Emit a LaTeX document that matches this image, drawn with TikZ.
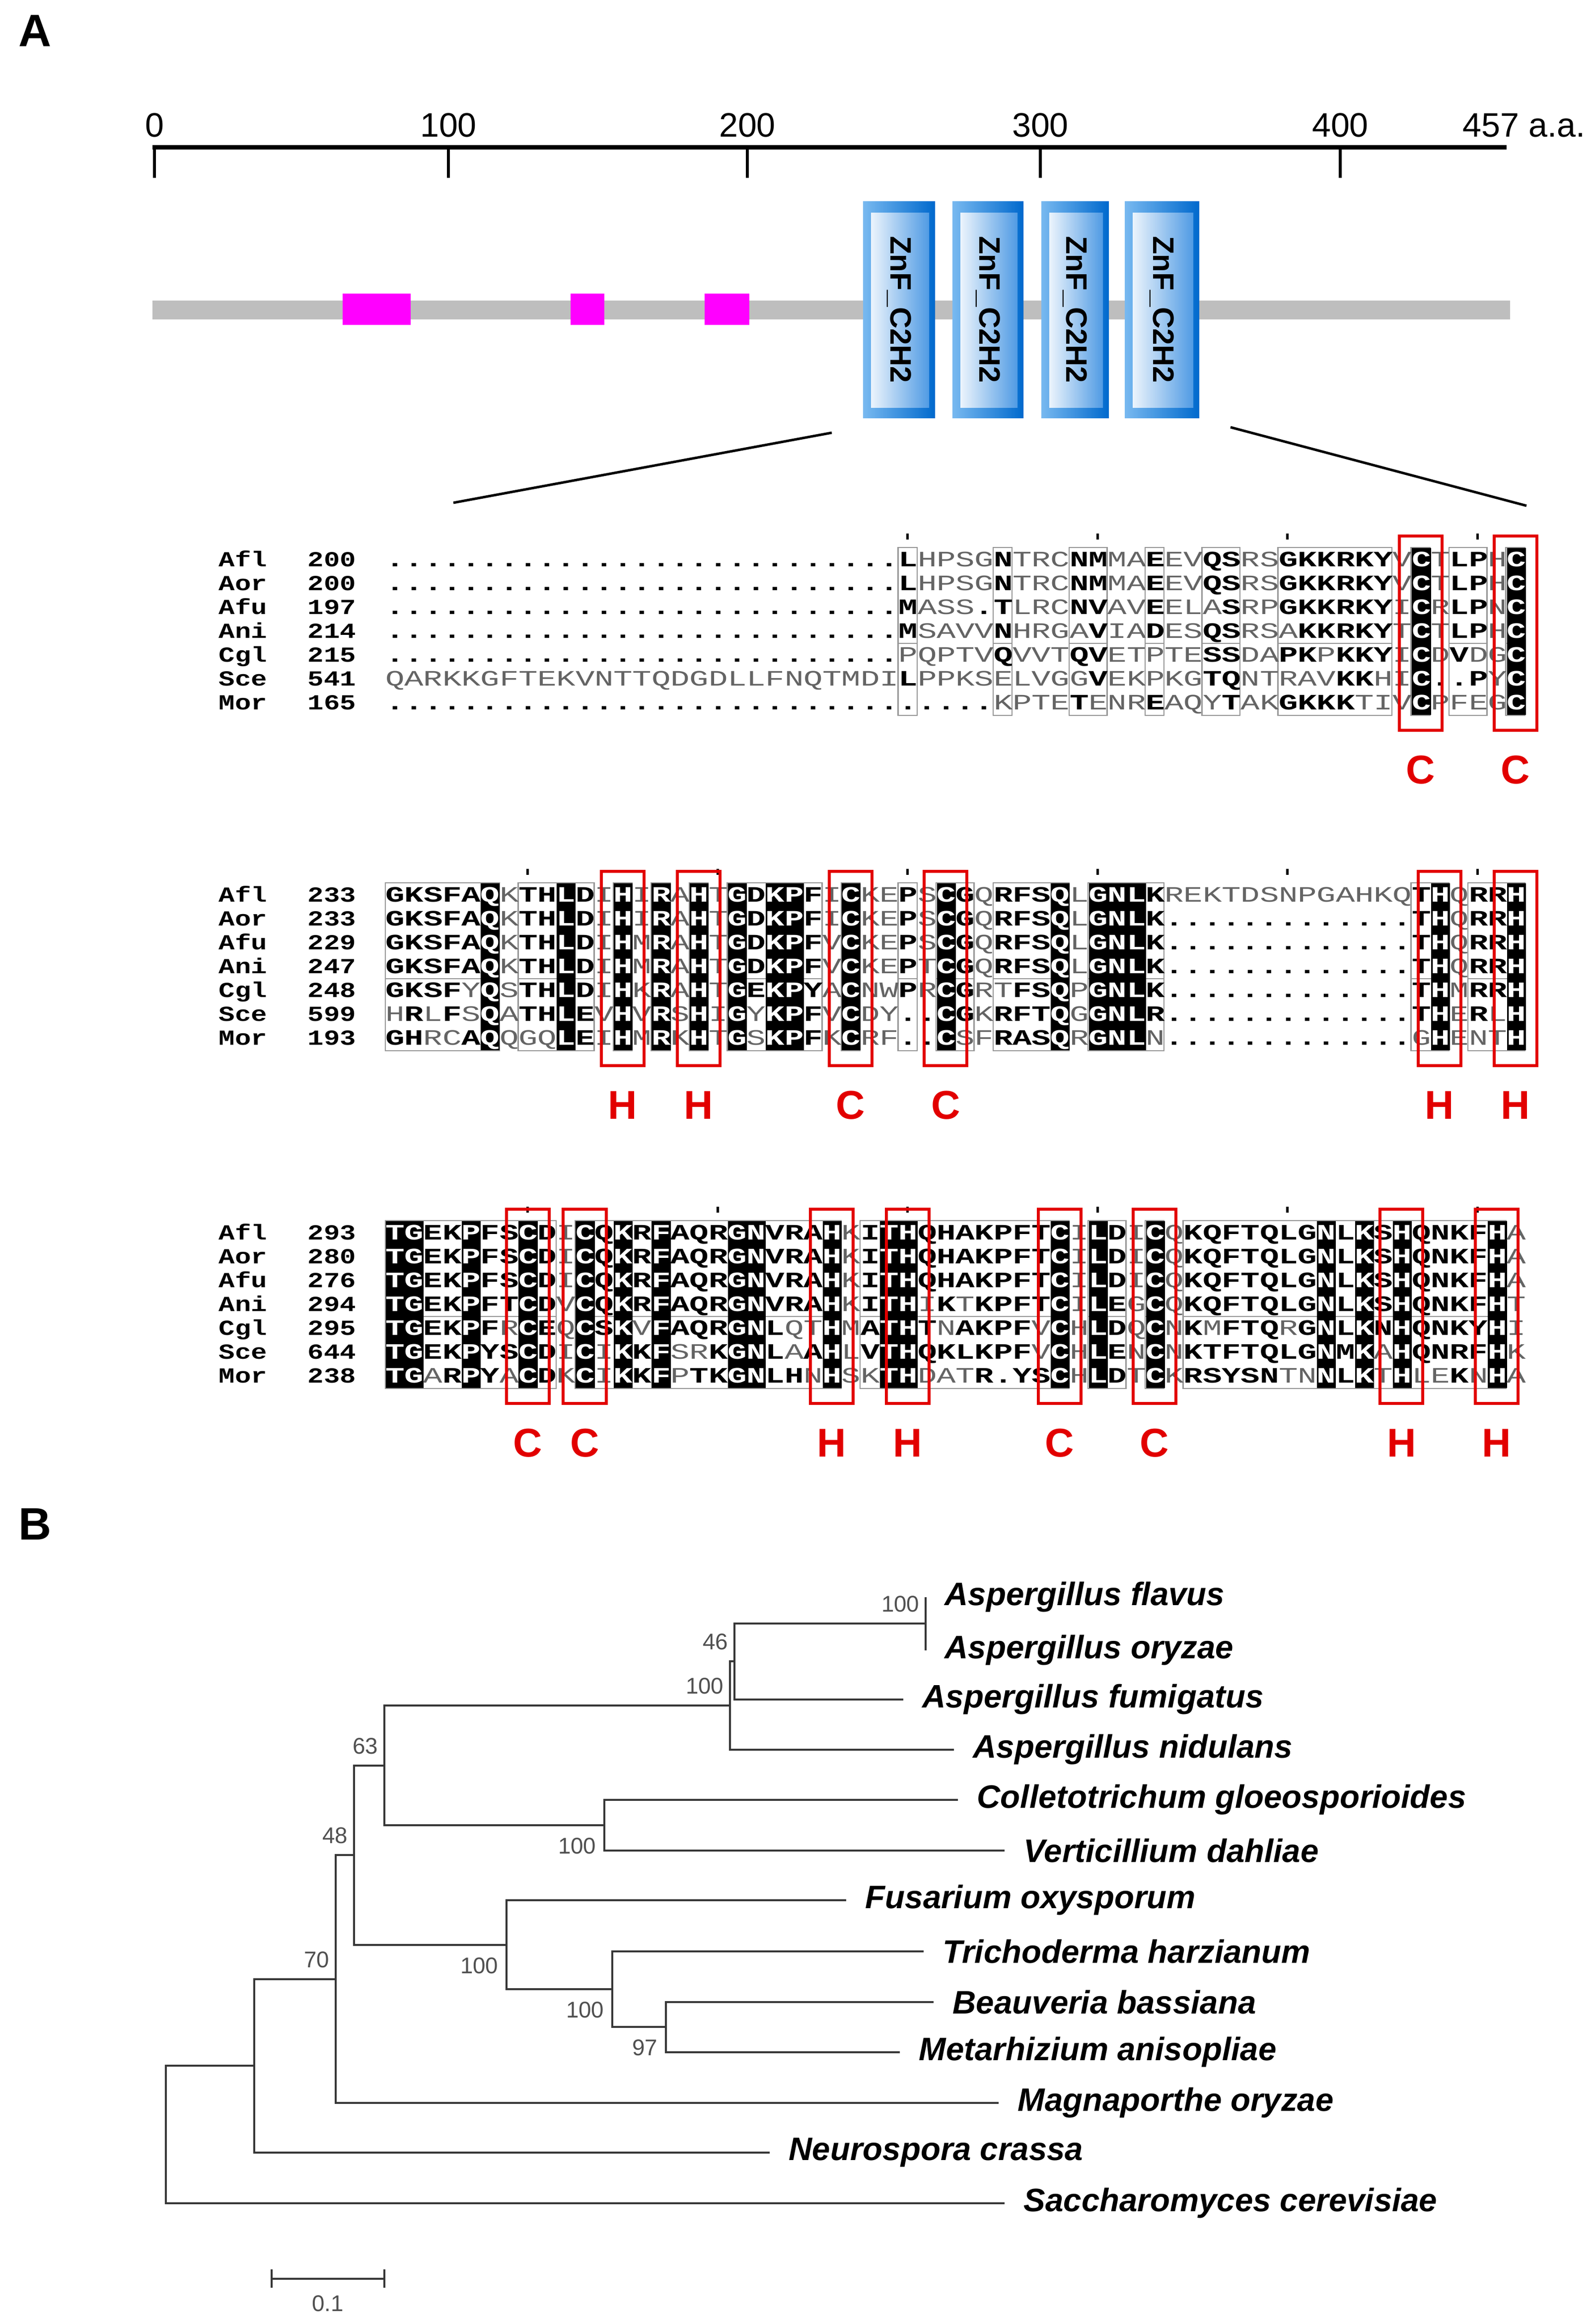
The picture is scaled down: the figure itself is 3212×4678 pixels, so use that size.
\documentclass[tikz,border=0pt]{standalone}
\usepackage{fontspec}
\setmainfont{Liberation Sans}
\newfontfamily\seqfont[FakeStretch=1.45]{Liberation Mono}
\newfontfamily\namefont[FakeStretch=1.25]{Liberation Mono}
\usepackage{xcolor}
\usetikzlibrary{positioning, calc}

\definecolor{znfblue}{RGB}{0,105,205}
\definecolor{znflight}{RGB}{120,185,240}
\definecolor{znfpale}{RGB}{236,244,252}
\definecolor{znfmid}{RGB}{80,155,228}
\definecolor{motifpink}{RGB}{255,0,255}
\definecolor{hlred}{RGB}{226,0,0}
\definecolor{alngray}{RGB}{100,100,100}
\definecolor{framegray}{RGB}{150,150,150}
\definecolor{treegray}{RGB}{55,55,55}
\definecolor{bootgray}{RGB}{80,80,80}
\definecolor{bargray}{RGB}{190,190,190}

% one alignment cell: black (k), bold (b) or grey (g)
\newlength\cellw
\setlength\cellw{0.3825cm}
\newcommand\cellstrut{\vrule width 0pt height 0.37cm depth 0.11cm}
\newcommand\alnK[1]{{\fboxsep=0pt\colorbox{black}{\hbox to\cellw{\hss\cellstrut\textcolor{white}{\bfseries #1}\hss}}}}
\newcommand\alnB[1]{\hbox to\cellw{\hss\cellstrut{\bfseries #1}\hss}}
\newcommand\alnG[1]{\hbox to\cellw{\hss\cellstrut\ifx.#1{\bfseries.}\else\textcolor{alngray}{#1}\fi\hss}}
\makeatletter
\def\alnrow#1#2{\aln@loop#1\relax#2\relax}
\def\aln@loop#1#2\relax#3#4\relax{\aln@put#1#3\ifx\relax#2\relax\else\aln@loop#2\relax#4\relax\fi}
\def\aln@put#1#2{\if k#2\alnK{#1}\else\if b#2\alnB{#1}\else\alnG{#1}\fi\fi}
\makeatother

% name, start number and residues of one sequence
\newcommand\seqline[6]{%
  \node[seqname] (#1#3) at (440,{#2+13}) {#3};
  \node[seqnum] (#1#3n) at (718,{#2+13}) {#4};
  \node[seqrow] (#1#3s) at (775.875,{#2+13}) {\alnrow{#5}{#6}};
}

\begin{document}
\begin{tikzpicture}[x=0.01cm, y=-0.01cm,
  panel/.style={inner sep=0pt, font=\bfseries\fontsize{26}{26}\selectfont},
  rulerlab/.style={inner sep=0pt, font=\fontsize{19.4}{20}\selectfont},
  znftext/.style={inner sep=0pt, rotate=-90, font=\bfseries\fontsize{17}{17}\selectfont},
  seqrow/.style={anchor=base west, inner sep=0pt, font=\seqfont\fontsize{12.6}{12.6}\selectfont},
  seqname/.style={anchor=base west, inner sep=0pt, font=\namefont\bfseries\fontsize{12.3}{12.3}\selectfont},
  seqnum/.style={anchor=base east, inner sep=0pt, font=\namefont\bfseries\fontsize{12.3}{12.3}\selectfont},
  alnframe/.style={draw=framegray, line width=0.025cm},
  hlbox/.style={draw=hlred, line width=0.06cm, minimum width=0.86cm, minimum height=3.91cm, inner sep=0pt},
  hlres/.style={inner sep=0pt, text=hlred, font=\bfseries\fontsize{23}{23}\selectfont},
  branch/.style={draw=treegray, line width=0.04cm},
  taxon/.style={inner sep=0pt, font=\bfseries\itshape\fontsize{18.6}{19}\selectfont},
  boot/.style={inner sep=0pt, text=bootgray, font=\fontsize{13}{13}\selectfont},
  bsup/.style={boot, anchor=east, xshift=-0.12cm, yshift=0.39cm},
  bsdown/.style={boot, anchor=east, xshift=-0.16cm, yshift=-0.42cm}]

\fill[white] (0,0) rectangle (3212,4678);
\useasboundingbox (0,0) rectangle (3212,4678);

% ---------------- A: domain map ----------------
\node[panel] (labA) at (71,62) {A};

\draw[line width=0.09cm] (307,296) -- (3034,296);
\foreach \v/\x in {0/311, 100/903, 200/1505, 300/2095, 400/2699} {
  \draw[line width=0.06cm] (\x,296) -- (\x,358);
  \node[rulerlab] (tick\v) at (\x,252) {\v};
}
\node[rulerlab, anchor=west] (tick457) at (2945,252) {457 a.a.};

\fill[bargray] (307,605) rectangle (3041,643);
\fill[motifpink] (690,591) rectangle (827,654);
\fill[motifpink] (1149,591) rectangle (1217,654);
\fill[motifpink] (1419,591) rectangle (1509,654);

\foreach \xa/\xb [count=\i] in {1738/1883, 1918/2061, 2097/2233, 2265/2415} {
  \shade[left color=znflight, right color=znfblue] (\xa,405) rectangle (\xb,841);
  \shade[left color=znfpale, right color=znfmid] ({\xa+16},428) rectangle ({\xb-12},820);
  \node[znftext] (znf\i) at ({(\xa+\xb)/2},623) {ZnF\_C2H2};
}

\coordinate (zoomL) at (1675,871);
\coordinate (zoomR) at (2478,860);
\coordinate (alnL) at (913,1012);
\coordinate (alnR) at (3074,1018);
\draw[line width=0.05cm] (zoomL) -- (alnL);
\draw[line width=0.05cm] (zoomR) -- (alnR);

% ---------------- alignment, block 1 ----------------
\foreach \a/\b in {28/28, 33/33, 37/38, 41/41, 44/45, 48/53, 55/55, 57/58, 60/60} {
  \draw[alnframe] ({775.875+(\a-1)*38.25},1102) rectangle ({775.875+\b*38.25},1440);
  \draw[alnframe] ({775.875+(\a-1)*38.25},1295) -- ({775.875+\b*38.25},1295);
}
\foreach \c in {28,38,48,58}
  \fill ({795+(\c-1)*38.25-2.5},1074) rectangle +(5,12);
\seqline{a}{1127}{Afl}{200}{.......... .......... .......LHP SGNTRCNMMA EEVQSRSGKK RKYVCTLPHC}{gggggggggg gggggggggg gggggggbgg ggbgggbbgg bggbbggbbb bbbgkgbbgk}
\seqline{a}{1175}{Aor}{200}{.......... .......... .......LHP SGNTRCNMMA EEVQSRSGKK RKYVCTLPHC}{gggggggggg gggggggggg gggggggbgg ggbgggbbgg bggbbggbbb bbbgkgbbgk}
\seqline{a}{1223}{Afu}{197}{.......... .......... .......MAS S.TLRCNVAV EELASRPGKK RKYICRLPNC}{gggggggggg gggggggggg gggggggbgg ggbgggbbgg bgggbggbbb bbbgkgbbgk}
\seqline{a}{1271}{Ani}{214}{.......... .......... .......MSA VVNHRGAVIA DESQSRSAKK RKYTCTLPHC}{gggggggggg gggggggggg gggggggbgg ggbggggbgg bggbbgggbb bbbgkgbbgk}
\seqline{a}{1319}{Cgl}{215}{.......... .......... .......PQP TVQVVTQVET PTESSDAPKP KKYICDVDGC}{gggggggggg gggggggggg gggggggggg ggbgggbbgg gggbbggbbg bbbgkgbggk}
\seqline{a}{1367}{Sce}{541}{QARKKGFTEK VNTTQDGDLL FNQTMDILPP KSELVGGVEK PKGTQNTRAV KKHIC..PYC}{gggggggggg gggggggggg gggggggbgg gggggggbgg gggbbggggg bbggkggbgk}
\seqline{a}{1415}{Mor}{165}{.......... .......... .......... ..KPTETENR EAQYTAKGKK KTIVCPFEGC}{gggggggggg gggggggggg gggggggggg ggggggbggg bgggbggbbb bgggkggggk}
\foreach \c/\r [count=\k] in {55/C, 60/C} {
  \node[hlbox] (boxA\k) at ({795+(\c-1)*38.25},1274.5) {};
  \node[hlres] (resA\k) at ($(boxA\k.south)+(0,77)$) {\r};
}

% ---------------- alignment, block 2 ----------------
\foreach \a/\b in {1/6, 8/11, 13/13, 15/15, 17/17, 19/23, 25/25, 28/28, 30/31, 33/36, 38/41, 55/56, 58/60} {
  \draw[alnframe] ({775.875+(\a-1)*38.25},1777) rectangle ({775.875+\b*38.25},2115);
  \draw[alnframe] ({775.875+(\a-1)*38.25},1970) -- ({775.875+\b*38.25},1970);
}
\foreach \c in {8,18,28,38,48,58}
  \fill ({795+(\c-1)*38.25-2.5},1749) rectangle +(5,12);
\seqline{b}{1802}{Afl}{233}{GKSFAQKTHL DIHIRAHTGD KPFICKEPSC GQRFSQLGNL KREKTDSNPG AHKQTHQRRH}{bbbbbkgbbk bgkgkgkgkb kkbgkggbgk bgbbbkgkkk bggggggggg ggggbkgbbk}
\seqline{b}{1850}{Aor}{233}{GKSFAQKTHL DIHIRAHTGD KPFICKEPSC GQRFSQLGNL K......... ....THQRRH}{bbbbbkgbbk bgkgkgkgkb kkbgkggbgk bgbbbkgkkk bggggggggg ggggbkgbbk}
\seqline{b}{1898}{Afu}{229}{GKSFAQKTHL DIHMRAHTGD KPFVCKEPSC GQRFSQLGNL K......... ....THQRRH}{bbbbbkgbbk bgkgkgkgkb kkbgkggbgk bgbbbkgkkk bggggggggg ggggbkgbbk}
\seqline{b}{1946}{Ani}{247}{GKSFAQKTHL DIHMRAHTGD KPFVCKEPTC GQRFSQLGNL K......... ....THQRRH}{bbbbbkgbbk bgkgkgkgkb kkbgkggbgk bgbbbkgkkk bggggggggg ggggbkgbbk}
\seqline{b}{1994}{Cgl}{248}{GKSFYQSTHL DIHKRAHTGE KPYACNWPRC GRTFSQPGNL K......... ....THMRRH}{bbbbgkgbbk bgkgkgkgkb kkbgkggbgk bggbbkgkkk bggggggggg ggggbkgbbk}
\seqline{b}{2042}{Sce}{599}{HRLFSQATHL EVHVRSHIGY KPFVCDY..C GKRFTQGGNL R......... ....THERLH}{gbgbgkgbbk bgkgkgkgkg kkbgkggbgk bgbbbkgkkk bggggggggg ggggbkgbgk}
\seqline{b}{2090}{Mor}{193}{GHRCAQQGQL EIHMRKHTGS KPFKCRF..C SFRASQRGNL N......... ....GHENTH}{bbggbkgggk bgkgkgkgkg kkbgkggbgk ggbbbkgkkk gggggggggg gggggkgggk}
\foreach \c/\r [count=\k] in {13/H, 17/H, 25/C, 30/C, 56/H, 60/H} {
  \node[hlbox] (boxB\k) at ({795+(\c-1)*38.25},1949.5) {};
  \node[hlres] (resB\k) at ($(boxB\k.south)+(0,77)$) {\r};
}

% ---------------- alignment, block 3 ----------------
\foreach \a/\b in {1/9, 11/24, 26/36, 38/39, 41/41, 43/59} {
  \draw[alnframe] ({775.875+(\a-1)*38.25},2457) rectangle ({775.875+\b*38.25},2795);
  \draw[alnframe] ({775.875+(\a-1)*38.25},2650) -- ({775.875+\b*38.25},2650);
}
\foreach \c in {8,18,28,38,48,58}
  \fill ({795+(\c-1)*38.25-2.5},2429) rectangle +(5,12);
\seqline{c}{2482}{Afl}{293}{TGEKPFSCDI CQKRFAQRGN VRAHKITHQH AKPFTCILDI CQKQFTQLGN LKSHQNKFHA}{kkbbkbbkbg kbkbkbbbkk bbbkgbkkbb bbbbbkgkbg kgbbbbbbbk bkbkbbbbkg}
\seqline{c}{2530}{Aor}{280}{TGEKPFSCDI CQKRFAQRGN VRAHKITHQH AKPFTCILDI CQKQFTQLGN LKSHQNKFHA}{kkbbkbbkbg kbkbkbbbkk bbbkgbkkbb bbbbbkgkbg kgbbbbbbbk bkbkbbbbkg}
\seqline{c}{2578}{Afu}{276}{TGEKPFSCDI CQKRFAQRGN VRAHKITHQH AKPFTCILDI CQKQFTQLGN LKSHQNKFHA}{kkbbkbbkbg kbkbkbbbkk bbbkgbkkbb bbbbbkgkbg kgbbbbbbbk bkbkbbbbkg}
\seqline{c}{2626}{Ani}{294}{TGEKPFTCDV CQKRFAQRGN VRAHKITHIK TKPFTCILEG CQKQFTQLGN LKSHQNKFHT}{kkbbkbbkbg kbkbkbbbkk bbbkgbkkgb gbbbbkgkbg kgbbbbbbbk bkbkbbbbkg}
\seqline{c}{2674}{Cgl}{295}{TGEKPFRCEQ CSKVFAQRGN LQTHMATHTN AKPFVCHLDQ CNKMFTQRGN LKNHQNKYHI}{kkbbkbgkbg kbkgkbbbkk bggkgbkkbg bbbbgkgkbg kgbgbbbgbk bkbkbbbbkg}
\seqline{c}{2722}{Sce}{644}{TGEKPYSCDI CIKKFSRKGN LAAHLVTHQK LKPFVCHLEN CNKTFTQLGN MKAHQNRFHK}{kkbbkbbkbg kgkbkggbkk bgbkgbkkbb bbbbgkgkbg kgbbbbbbbk bkgkbbbbkg}
\seqline{c}{2770}{Mor}{238}{TGARPYACDK CIKKFPTKGN LHNHSKTHDA TR.YSCHLDT CKRSYSNTNN LKTHLEKNHA}{kkgbkbgkbg kgkbkgbbkk bbgkggkkgg gbbbbkgkbg kgbbbbbggk bkgkggbgkg}
\foreach \c/\r [count=\k] in {8/C, 11/C, 24/H, 28/H, 36/C, 41/C, 54/H, 59/H} {
  \node[hlbox] (boxC\k) at ({795+(\c-1)*38.25},2629.5) {};
  \node[hlres] (resC\k) at ($(boxC\k.south)+(0,77)$) {\r};
}

% ---------------- B: tree ----------------
\node[panel] (labB) at (71,3068) {B};

% tips
\coordinate (eAfl) at (1864,3215);
\coordinate (eAor) at (1864,3322);
\coordinate (eAfu) at (1819,3421);
\coordinate (eAni) at (1921,3522);
\coordinate (eCgl) at (1929,3623);
\coordinate (eVda) at (2023,3725);
\coordinate (eFox) at (1704,3825);
\coordinate (eTha) at (1860,3928);
\coordinate (eBba) at (1880,4030);
\coordinate (eMan) at (1812,4131);
\coordinate (eMor) at (2011,4233);
\coordinate (eNcr) at (1550,4333);
\coordinate (eSce) at (2023,4435);
% inner nodes
\coordinate (kAA) at (1864,3268);
\coordinate (k46) at (1479,3344);
\coordinate (kAsp) at (1470,3433);
\coordinate (kCV) at (1217,3674);
\coordinate (k63) at (774,3554);
\coordinate (kBM) at (1341,4080);
\coordinate (kTBM) at (1233,4004);
\coordinate (kFus) at (1020,3915);
\coordinate (k48) at (713,3734);
\coordinate (k70) at (676,3984);
\coordinate (kNcr) at (512,4158);
\coordinate (kRoot) at (334,4296);

\draw[branch] (kAA) |- (eAfl);
\draw[branch] (kAA) |- (eAor);
\draw[branch] (k46) |- (kAA);
\draw[branch] (k46) |- (eAfu);
\draw[branch] (kAsp) |- (k46);
\draw[branch] (kAsp) |- (eAni);
\draw[branch] (kCV) |- (eCgl);
\draw[branch] (kCV) |- (eVda);
\draw[branch] (k63) |- (kAsp);
\draw[branch] (k63) |- (kCV);
\draw[branch] (kBM) |- (eBba);
\draw[branch] (kBM) |- (eMan);
\draw[branch] (kTBM) |- (eTha);
\draw[branch] (kTBM) |- (kBM);
\draw[branch] (kFus) |- (eFox);
\draw[branch] (kFus) |- (kTBM);
\draw[branch] (k48) |- (k63);
\draw[branch] (k48) |- (kFus);
\draw[branch] (k70) |- (k48);
\draw[branch] (k70) |- (eMor);
\draw[branch] (kNcr) |- (k70);
\draw[branch] (kNcr) |- (eNcr);
\draw[branch] (kRoot) |- (kNcr);
\draw[branch] (kRoot) |- (eSce);

\node[taxon, right=0.38cm of eAfl] (tAfl) {Aspergillus flavus};
\node[taxon, right=0.38cm of eAor] (tAor) {Aspergillus oryzae};
\node[taxon, right=0.38cm of eAfu] (tAfu) {Aspergillus fumigatus};
\node[taxon, right=0.38cm of eAni] (tAni) {Aspergillus nidulans};
\node[taxon, right=0.38cm of eCgl] (tCgl) {Colletotrichum gloeosporioides};
\node[taxon, right=0.38cm of eVda] (tVda) {Verticillium dahliae};
\node[taxon, right=0.38cm of eFox] (tFox) {Fusarium oxysporum};
\node[taxon, right=0.38cm of eTha] (tTha) {Trichoderma harzianum};
\node[taxon, right=0.38cm of eBba] (tBba) {Beauveria bassiana};
\node[taxon, right=0.38cm of eMan] (tMan) {Metarhizium anisopliae};
\node[taxon, right=0.38cm of eMor] (tMor) {Magnaporthe oryzae};
\node[taxon, right=0.38cm of eNcr] (tNcr) {Neurospora crassa};
\node[taxon, right=0.38cm of eSce] (tSce) {Saccharomyces cerevisiae};

% bootstrap values
\node[bsup] (bAA) at (kAA) {100};
\node[bsup] (b46) at (k46) {46};
\node[bsup] (bAsp) at (kAsp) {100};
\node[bsup] (b63) at (k63) {63};
\node[bsup] (b48) at (k48) {48};
\node[bsup] (b70) at (k70) {70};
\node[bsdown] (bCV) at (kCV) {100};
\node[bsdown] (bFus) at (kFus) {100};
\node[bsdown] (bTBM) at (kTBM) {100};
\node[bsdown] (bBM) at (kBM) {97};

% scale bar
\coordinate (sbL) at (547,4587);
\coordinate (sbR) at (774,4587);
\draw[branch] (sbL) -- (sbR);
\draw[branch] ($(sbL)+(0,-19)$) -- ($(sbL)+(0,18)$);
\draw[branch] ($(sbR)+(0,-19)$) -- ($(sbR)+(0,18)$);
\node[boot] (sbT) at (660,4637) {0.1};

\end{tikzpicture}
\end{document}
